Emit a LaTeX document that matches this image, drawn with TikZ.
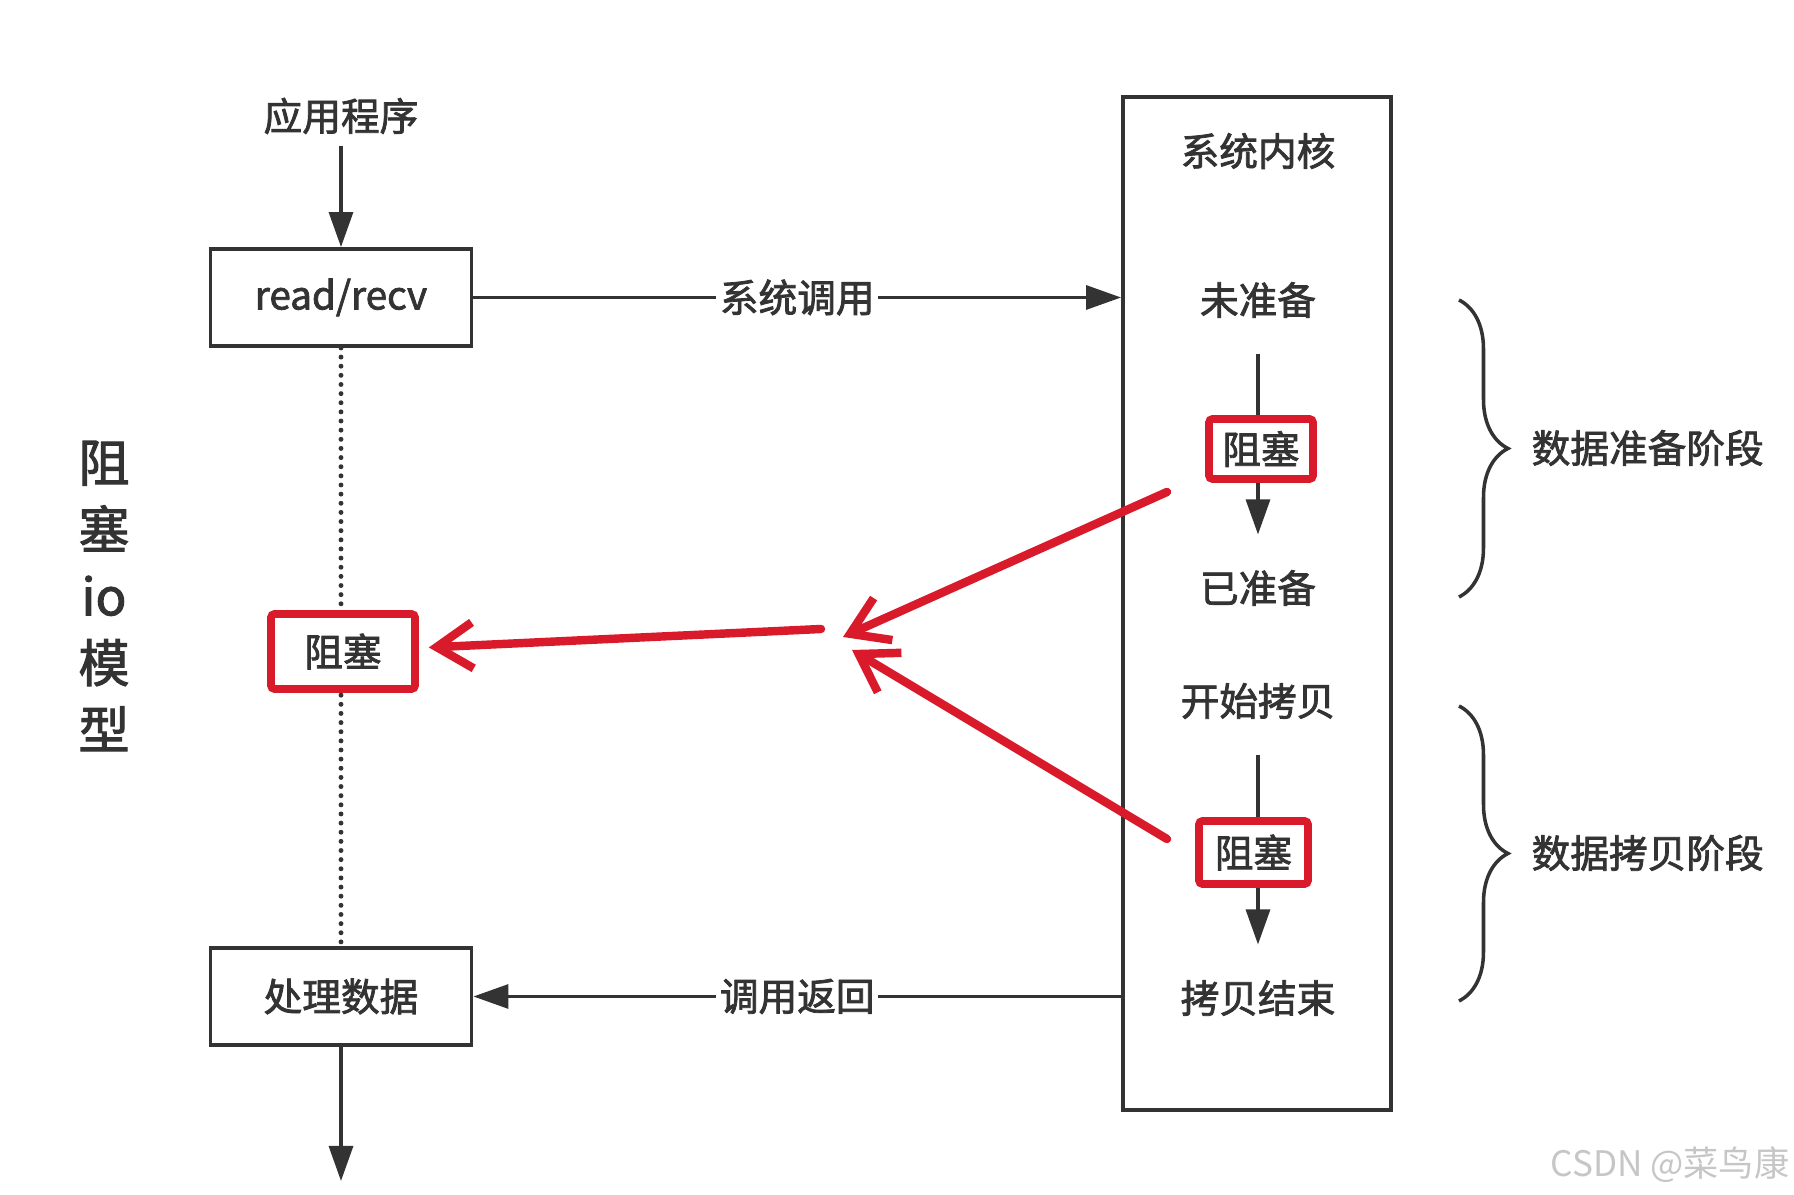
\documentclass[tikz,border=0pt]{standalone}
\usepackage{fontspec}
\setmainfont{Noto Sans CJK SC}[FakeBold=2]
\newfontfamily\markfont{Noto Sans CJK SC}
\usetikzlibrary{positioning,arrows.meta,decorations.pathreplacing}
\definecolor{ink}{HTML}{333333}
\definecolor{blockred}{HTML}{D81A2B}
\tikzset{
  box/.style={draw,line width=1.1pt,minimum width=2.61cm,minimum height=0.97cm},
  kernelbox/.style={draw,line width=1.1pt,minimum width=2.68cm,minimum height=10.13cm},
  state/.style={inner sep=0.35cm},
  redbox/.style={draw=blockred,line width=2.2pt,fill=white,rounded corners=1pt,inner sep=0pt},
  flow/.style={-{Triangle[length=3.5mm,width=2.4mm]},line width=0.9pt},
  callout/.style={fill=white,inner sep=1pt},
  dots/.style={line width=1.4pt,line cap=round,dash pattern=on 0pt off 2.6pt},
  redarrow/.style={-{Straight Barb[length=3.6mm,width=4.6mm]},line width=2.4pt,line cap=round,draw=blockred},
  phase/.style={decorate,decoration={brace,amplitude=0.49cm},line width=1pt}
}

\begin{document}
\begin{tikzpicture}[color=ink,font=\fontsize{11}{13}\selectfont]
\useasboundingbox (0,0) rectangle (17.94,11.95);

% application side
\node (app) at (3.41,10.79) {应用程序};
\node[box] (read) at (3.41,8.975) {read/recv};
\node[box] (proc) at (3.41,1.985) {处理数据};
\coordinate (out) at (3.41,0.14);

\node[align=center,font=\fontsize{14.5}{19}\selectfont] (model) at (1.04,5.99) {阻\\塞\\io\\模\\型};

% kernel side
\node[kernelbox] (kernel) at (12.57,5.915) {};
\node (kname) at (12.58,10.44) {系统内核};
\node[state] (notready) at (12.58,8.95) {未准备};
\node[state] (ready) at (12.58,6.07) {已准备};
\node[state] (copy) at (12.58,4.94) {开始拷贝};
\node[state] (done) at (12.58,1.97) {拷贝结束};

\draw[flow] (app) -- (read);
\draw[flow] (proc) -- (out);
\draw[dots] (read) -- (proc);
\draw[flow] (notready) -- (ready);
\draw[flow] (copy) -- (done);

\draw[flow] (read.east) -- (read.east -| kernel.west) node[callout,midway] {系统调用};
\draw[flow] (proc.east -| kernel.west) -- (proc.east) node[callout,midway] {调用返回};

\node[redbox,minimum width=1.04cm,minimum height=0.60cm] (blk1) at (12.61,7.46) {阻塞};
\node[redbox,minimum width=1.09cm,minimum height=0.63cm] (blk2) at (12.535,3.425) {阻塞};
\node[redbox,minimum width=1.44cm,minimum height=0.75cm] (blkL) at (3.43,5.435) {阻塞};

% red arrows
\coordinate (s1) at (11.67,7.03);
\coordinate (m1) at (8.43,5.58);
\coordinate (s2) at (11.67,3.56);
\coordinate (m2) at (8.52,5.45);
\coordinate (m0) at (8.21,5.66);
\draw[redarrow] (s1) -- (m1);
\draw[redarrow] (s2) -- (m2);
\draw[redarrow,shorten >=1mm] (m0) -- (blkL);

% phases
\coordinate (p1t) at (14.59,8.95);
\coordinate (p1b) at (14.59,5.98);
\coordinate (p2t) at (14.59,4.89);
\coordinate (p2b) at (14.59,1.94);
\draw[phase] (p1t) -- (p1b);
\draw[phase] (p2t) -- (p2b);
\node[anchor=west,inner sep=0pt] (prep) at (15.31,7.47) {数据准备阶段};
\node[anchor=west,inner sep=0pt] (copyphase) at (15.31,3.42) {数据拷贝阶段};

\node[text=gray!45,font=\markfont\fontsize{10}{12}\selectfont] (mark) at (16.70,0.30) {CSDN @菜鸟康};
\end{tikzpicture}
\end{document}
